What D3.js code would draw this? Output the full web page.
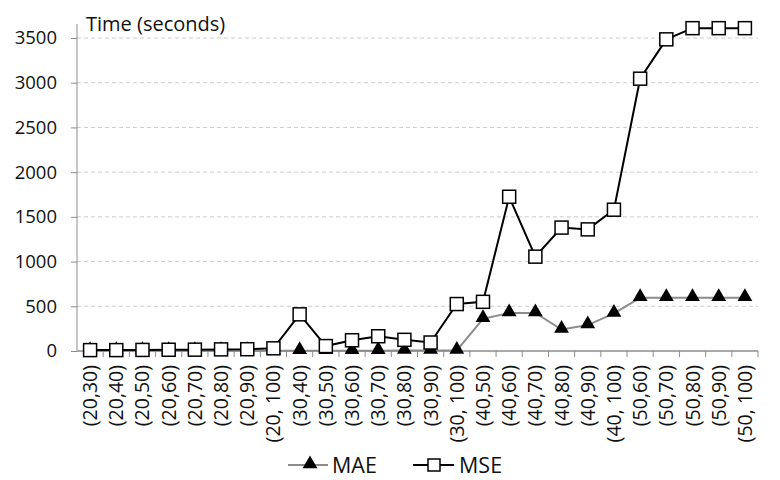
<!DOCTYPE html>
<html>
<head>
<meta charset="utf-8">
<script src="https://cdn.jsdelivr.net/npm/d3@7"></script>
<style>
  body { margin: 0; background: #fff; }
  text { font-family: "Open Sans", "Liberation Sans", sans-serif; }
</style>
</head>
<body>
<div id="chart"></div>
<script>
// category labels along the x axis
var categories = ["(20,30)", "(20,40)", "(20,50)", "(20,60)", "(20,70)", "(20,80)", "(20,90)", "(20, 100)",
  "(30,40)", "(30,50)", "(30,60)", "(30,70)", "(30,80)", "(30,90)", "(30, 100)",
  "(40,50)", "(40,60)", "(40,70)", "(40,80)", "(40,90)", "(40, 100)",
  "(50,60)", "(50,70)", "(50,80)", "(50,90)", "(50, 100)"];

var maeValues = [2, 2, 2, 2, 2, 2, 2, 3, 3, 3, 4, 4, 5, 5, 6,
  360, 425, 425, 240, 290, 420, 595, 595, 595, 595, 595];
var mseValues = [10, 10, 12, 14, 15, 18, 20, 30, 410, 55, 120, 165, 125, 95, 525,
  550, 1725, 1055, 1380, 1360, 1580, 3045, 3485, 3610, 3610, 3610];

var yTicks = [0, 500, 1000, 1500, 2000, 2500, 3000, 3500];

var width = 780, height = 480;
var margin = { top: 38, right: 22, bottom: 129, left: 77 };

var svg = d3.select("#chart")
  .append("svg")
  .attr("width", width)
  .attr("height", height);

var x = d3.scaleBand()
  .domain(categories)
  .range([margin.left, width - margin.right]);

var y = d3.scaleLinear()
  .domain([0, 3500])
  .range([height - margin.bottom, margin.top]);

var cx = function (i) { return x(categories[i]) + x.bandwidth() / 2; };

// gridlines
svg.selectAll(".grid")
  .data(yTicks.slice(1))
  .enter()
  .append("line")
  .attr("x1", margin.left)
  .attr("x2", width - margin.right)
  .attr("y1", function (d) { return y(d); })
  .attr("y2", function (d) { return y(d); })
  .attr("stroke", "#cccccc")
  .attr("stroke-dasharray", "4,3")
  .attr("stroke-width", 1);

// y axis
var yAxis = svg.append("g")
  .attr("transform", "translate(" + margin.left + ",0)")
  .call(d3.axisLeft(y).tickValues(yTicks).tickFormat(d3.format("d")).tickSize(6).tickPadding(14));
yAxis.select(".domain").attr("stroke", "#8c8c8c").attr("d", "M0," + (margin.top - 14) + "V" + y(0));
yAxis.selectAll(".tick line").attr("stroke", "#8c8c8c");
yAxis.selectAll("text").attr("font-size", "18.5px").attr("fill", "#111")
  .style("font-family", "'Open Sans', sans-serif");

// x axis with tick marks at the category boundaries
var xAxis = svg.append("g")
  .attr("transform", "translate(0," + y(0) + ")");
xAxis.append("line")
  .attr("x1", margin.left).attr("x2", width - margin.right)
  .attr("stroke", "#8c8c8c").attr("stroke-width", 1.5);
xAxis.selectAll(".xtick")
  .data(categories)
  .enter()
  .append("line")
  .attr("x1", function (d) { return x(d) + x.bandwidth(); })
  .attr("x2", function (d) { return x(d) + x.bandwidth(); })
  .attr("y1", 0).attr("y2", 6)
  .attr("stroke", "#8c8c8c");
xAxis.selectAll(".xlabel")
  .data(categories)
  .enter()
  .append("text")
  .attr("transform", function (d) {
    return "translate(" + (x(d) + x.bandwidth() / 2 + 7) + ",14) rotate(-90)";
  })
  .attr("text-anchor", "end")
  .attr("font-size", "19.5px")
  .attr("fill", "#111")
  .text(function (d) { return d; });

// y axis title
svg.append("text")
  .attr("x", margin.left + 9)
  .attr("y", margin.top - 7)
  .attr("font-size", "20px")
  .attr("fill", "#111")
  .text("Time (seconds)");

var line = d3.line()
  .x(function (d, i) { return cx(i); })
  .y(function (d) { return y(d); });

// MAE series
svg.append("path")
  .datum(maeValues)
  .attr("d", line)
  .attr("fill", "none")
  .attr("stroke", "#8c8c8c")
  .attr("stroke-width", 2);

var tri = d3.symbol().type(d3.symbolTriangle).size(95);

svg.selectAll(".mae")
  .data(maeValues)
  .enter()
  .append("path")
  .attr("d", tri)
  .attr("transform", function (d, i) { return "translate(" + cx(i) + "," + (y(d) - 1) + ")"; })
  .attr("fill", "#000");

// MSE series
svg.append("path")
  .datum(mseValues)
  .attr("d", line)
  .attr("fill", "none")
  .attr("stroke", "#000")
  .attr("stroke-width", 2);

svg.selectAll(".mse")
  .data(mseValues)
  .enter()
  .append("rect")
  .attr("x", function (d, i) { return cx(i) - 6.5; })
  .attr("y", function (d) { return y(d) - 6.5; })
  .attr("width", 13)
  .attr("height", 13)
  .attr("fill", "#fff")
  .attr("stroke", "#000")
  .attr("stroke-width", 1.5);

// legend
var legend = svg.append("g").attr("transform", "translate(0,465)");
legend.append("line").attr("x1", 288).attr("x2", 328).attr("stroke", "#8c8c8c").attr("stroke-width", 2);
legend.append("path").attr("d", tri).attr("transform", "translate(310,-1)").attr("fill", "#000");
legend.append("text").attr("x", 332).attr("y", 8).attr("font-size", "21.5px").attr("fill", "#111").text("MAE");
legend.append("line").attr("x1", 413).attr("x2", 454).attr("stroke", "#000").attr("stroke-width", 2);
legend.append("rect").attr("x", 428).attr("y", -6).attr("width", 12).attr("height", 12)
  .attr("fill", "#fff").attr("stroke", "#000").attr("stroke-width", 1.5);
legend.append("text").attr("x", 459).attr("y", 8).attr("font-size", "21.5px").attr("fill", "#111").text("MSE");
</script>
</body>
</html>
